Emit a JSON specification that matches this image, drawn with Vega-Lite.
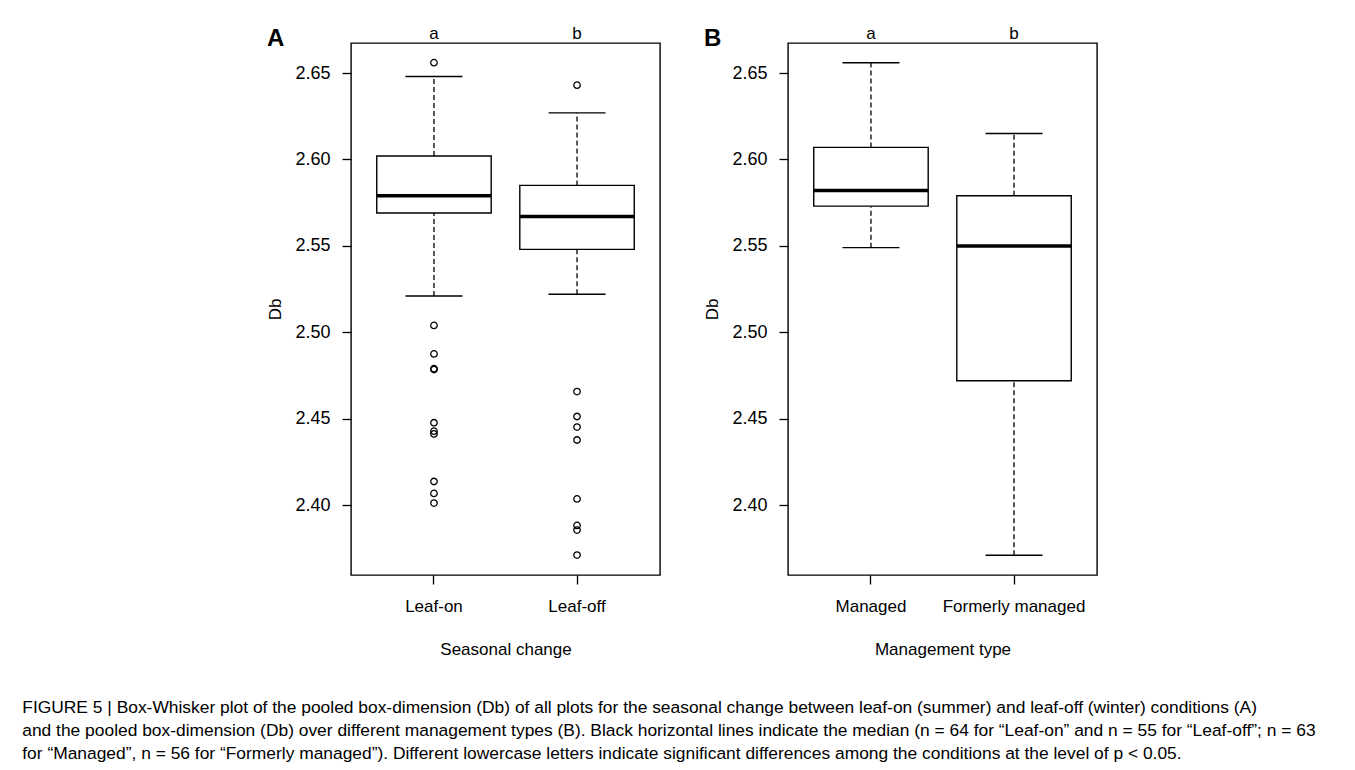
{
  "$schema": "https://vega.github.io/schema/vega-lite/v6.json",
  "padding": {"left": 22, "top": 23, "right": 5, "bottom": 5},
  "background": "white",
  "datasets": {
    "boxA": [
      {"group": "Leaf-on", "lower": 2.521, "q1": 2.569, "median": 2.579, "q3": 2.602, "upper": 2.648},
      {"group": "Leaf-off", "lower": 2.522, "q1": 2.548, "median": 2.567, "q3": 2.585, "upper": 2.627}
    ],
    "outA": [
      {"group": "Leaf-on", "value": 2.656},
      {"group": "Leaf-on", "value": 2.504},
      {"group": "Leaf-on", "value": 2.4875},
      {"group": "Leaf-on", "value": 2.479},
      {"group": "Leaf-on", "value": 2.4785},
      {"group": "Leaf-on", "value": 2.4477},
      {"group": "Leaf-on", "value": 2.4428},
      {"group": "Leaf-on", "value": 2.4412},
      {"group": "Leaf-on", "value": 2.4137},
      {"group": "Leaf-on", "value": 2.4068},
      {"group": "Leaf-on", "value": 2.4012},
      {"group": "Leaf-off", "value": 2.643},
      {"group": "Leaf-off", "value": 2.4657},
      {"group": "Leaf-off", "value": 2.4513},
      {"group": "Leaf-off", "value": 2.4452},
      {"group": "Leaf-off", "value": 2.4377},
      {"group": "Leaf-off", "value": 2.4036},
      {"group": "Leaf-off", "value": 2.3883},
      {"group": "Leaf-off", "value": 2.3856},
      {"group": "Leaf-off", "value": 2.3711}
    ],
    "boxB": [
      {"group": "Managed", "lower": 2.549, "q1": 2.573, "median": 2.582, "q3": 2.607, "upper": 2.656},
      {"group": "Formerly managed", "lower": 2.371, "q1": 2.472, "median": 2.550, "q3": 2.579, "upper": 2.615}
    ]
  },
  "hconcat": [
    {
      "width": 309,
      "height": 532,
      "title": {"text": "A", "anchor": "start", "frame": "bounds", "fontSize": 24, "fontWeight": "bold", "font": "Liberation Sans", "color": "black", "offset": -27},
      "resolve": {"axis": {"x": "independent"}},
      "layer": [
        {
          "data": {"name": "boxA"},
          "mark": {"type": "rule", "color": "black", "strokeWidth": 1.3, "strokeDash": [5, 3]},
          "encoding": {
            "x": {"field": "group", "type": "nominal", "sort": ["Leaf-on", "Leaf-off"], "scale": {"paddingInner": 0.2, "paddingOuter": 0.18}, "axis": {"orient": "bottom", "title": "Seasonal change", "labelAngle": 0, "tickSize": 9, "labelPadding": 14, "titlePadding": 27, "domain": false}},
            "y": {"field": "q3", "type": "quantitative", "scale": {"domain": [2.3596, 2.6674], "nice": false, "zero": false}, "axis": {"title": "Db", "values": [2.4, 2.45, 2.5, 2.55, 2.6, 2.65], "format": ".2f", "grid": false, "domain": false, "tickSize": 9, "labelPadding": 12, "titlePadding": 10, "labelFontSize": 18}},
            "y2": {"field": "upper"}
          }
        },
        {
          "data": {"name": "boxA"},
          "mark": {"type": "rule", "color": "black", "strokeWidth": 1.3, "strokeDash": [5, 3]},
          "encoding": {
            "x": {"field": "group", "type": "nominal", "sort": ["Leaf-on", "Leaf-off"], "axis": null},
            "y": {"field": "lower", "type": "quantitative"},
            "y2": {"field": "q1"}
          }
        },
        {
          "data": {"name": "boxA"},
          "mark": {"type": "bar", "fill": "white", "stroke": "black", "strokeWidth": 1.4},
          "encoding": {
            "x": {"field": "group", "type": "nominal", "sort": ["Leaf-on", "Leaf-off"], "axis": null},
            "y": {"field": "q1", "type": "quantitative"},
            "y2": {"field": "q3"}
          }
        },
        {
          "data": {"name": "boxA"},
          "mark": {"type": "tick", "color": "black", "size": 114, "thickness": 3.5, "opacity": 1},
          "encoding": {
            "x": {"field": "group", "type": "nominal", "sort": ["Leaf-on", "Leaf-off"], "axis": {"orient": "top", "title": null, "ticks": false, "domain": false, "labelPadding": 1, "labelAngle": 0, "labelExpr": "datum.label == 'Leaf-on' ? 'a' : 'b'"}},
            "y": {"field": "median", "type": "quantitative"}
          }
        },
        {
          "data": {"name": "boxA"},
          "mark": {"type": "tick", "color": "black", "size": 57, "thickness": 1.4, "opacity": 1},
          "encoding": {
            "x": {"field": "group", "type": "nominal", "sort": ["Leaf-on", "Leaf-off"], "axis": null},
            "y": {"field": "upper", "type": "quantitative"}
          }
        },
        {
          "data": {"name": "boxA"},
          "mark": {"type": "tick", "color": "black", "size": 57, "thickness": 1.4, "opacity": 1},
          "encoding": {
            "x": {"field": "group", "type": "nominal", "sort": ["Leaf-on", "Leaf-off"], "axis": null},
            "y": {"field": "lower", "type": "quantitative"}
          }
        },
        {
          "data": {"name": "outA"},
          "mark": {"type": "point", "shape": "circle", "filled": false, "stroke": "black", "strokeWidth": 1.3, "size": 42, "opacity": 1},
          "encoding": {
            "x": {"field": "group", "type": "nominal", "sort": ["Leaf-on", "Leaf-off"], "axis": null},
            "y": {"field": "value", "type": "quantitative"}
          }
        }
      ]
    },
    {
      "width": 309,
      "height": 532,
      "title": {"text": "B", "anchor": "start", "frame": "bounds", "fontSize": 24, "fontWeight": "bold", "font": "Liberation Sans", "color": "black", "offset": -27},
      "resolve": {"axis": {"x": "independent"}},
      "layer": [
        {
          "data": {"name": "boxB"},
          "mark": {"type": "rule", "color": "black", "strokeWidth": 1.3, "strokeDash": [5, 3]},
          "encoding": {
            "x": {"field": "group", "type": "nominal", "sort": ["Managed", "Formerly managed"], "scale": {"paddingInner": 0.2, "paddingOuter": 0.18}, "axis": {"orient": "bottom", "title": "Management type", "labelAngle": 0, "tickSize": 9, "labelPadding": 14, "titlePadding": 27, "domain": false}},
            "y": {"field": "q3", "type": "quantitative", "scale": {"domain": [2.3596, 2.6674], "nice": false, "zero": false}, "axis": {"title": "Db", "values": [2.4, 2.45, 2.5, 2.55, 2.6, 2.65], "format": ".2f", "grid": false, "domain": false, "tickSize": 9, "labelPadding": 12, "titlePadding": 10, "labelFontSize": 18}},
            "y2": {"field": "upper"}
          }
        },
        {
          "data": {"name": "boxB"},
          "mark": {"type": "rule", "color": "black", "strokeWidth": 1.3, "strokeDash": [5, 3]},
          "encoding": {
            "x": {"field": "group", "type": "nominal", "sort": ["Managed", "Formerly managed"], "axis": null},
            "y": {"field": "lower", "type": "quantitative"},
            "y2": {"field": "q1"}
          }
        },
        {
          "data": {"name": "boxB"},
          "mark": {"type": "bar", "fill": "white", "stroke": "black", "strokeWidth": 1.4},
          "encoding": {
            "x": {"field": "group", "type": "nominal", "sort": ["Managed", "Formerly managed"], "axis": null},
            "y": {"field": "q1", "type": "quantitative"},
            "y2": {"field": "q3"}
          }
        },
        {
          "data": {"name": "boxB"},
          "mark": {"type": "tick", "color": "black", "size": 114, "thickness": 3.5, "opacity": 1},
          "encoding": {
            "x": {"field": "group", "type": "nominal", "sort": ["Managed", "Formerly managed"], "axis": {"orient": "top", "title": null, "ticks": false, "domain": false, "labelPadding": 1, "labelAngle": 0, "labelExpr": "datum.label == 'Managed' ? 'a' : 'b'"}},
            "y": {"field": "median", "type": "quantitative"}
          }
        },
        {
          "data": {"name": "boxB"},
          "mark": {"type": "tick", "color": "black", "size": 57, "thickness": 1.4, "opacity": 1},
          "encoding": {
            "x": {"field": "group", "type": "nominal", "sort": ["Managed", "Formerly managed"], "axis": null},
            "y": {"field": "upper", "type": "quantitative"}
          }
        },
        {
          "data": {"name": "boxB"},
          "mark": {"type": "tick", "color": "black", "size": 57, "thickness": 1.4, "opacity": 1},
          "encoding": {
            "x": {"field": "group", "type": "nominal", "sort": ["Managed", "Formerly managed"], "axis": null},
            "y": {"field": "lower", "type": "quantitative"}
          }
        }
      ]
    }
  ],
  "spacing": 42,
  "title": {
    "text": [
      "FIGURE 5 | Box-Whisker plot of the pooled box-dimension (Db) of all plots for the seasonal change between leaf-on (summer) and leaf-off (winter) conditions (A)",
      "and the pooled box-dimension (Db) over different management types (B). Black horizontal lines indicate the median (n = 64 for “Leaf-on” and n = 55 for “Leaf-off”; n = 63",
      "for “Managed”, n = 56 for “Formerly managed”). Different lowercase letters indicate significant differences among the conditions at the level of p < 0.05."
    ],
    "orient": "bottom",
    "anchor": "start",
    "frame": "bounds",
    "font": "Liberation Sans",
    "fontSize": 17.4,
    "fontWeight": "normal",
    "color": "black",
    "lineHeight": 23,
    "offset": 41,
    "dx": -244
  },
  "config": {
    "view": {"stroke": "black", "strokeWidth": 1.4},
    "axis": {
      "labelFont": "Liberation Sans",
      "titleFont": "Liberation Sans",
      "labelFontSize": 17,
      "titleFontSize": 17,
      "titleFontWeight": "normal",
      "labelColor": "black",
      "titleColor": "black",
      "tickColor": "black",
      "tickWidth": 1.3
    }
  }
}
